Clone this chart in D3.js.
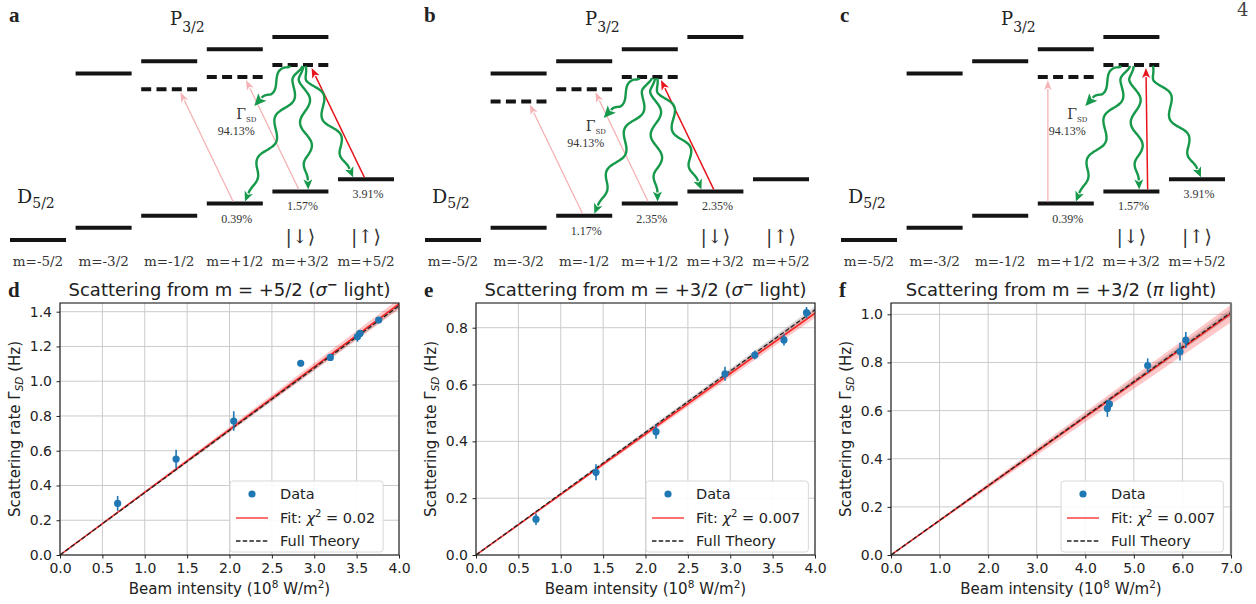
<!DOCTYPE html>
<html><head><meta charset="utf-8">
<script src="https://cdn.jsdelivr.net/npm/d3@7"></script>
<style>body{margin:0;background:#fff}svg{display:block}</style>
</head><body><svg id="fig" width="1256" height="604"></svg>
<script>
// ---------------- DATA ----------------
const mLabels = ["m=-5/2","m=-3/2","m=-1/2","m=+1/2","m=+3/2","m=+5/2"];
const dEnergy = [0,1,2,3,4,5];
const pEnergy = [null,13.7,14.7,15.7,16.7,null];
const virtualDetuning = 2.3;
const gammaBranch = "94.13%";

const aVirtual = [2,3,4];
const aDrives = [[3,2],[4,3],[5,4]];
const aSource = 4;
const aDecays = [3,4,5];
const aBranch = ["0.39%","1.57%","3.91%"];

const bVirtual = [1,2,3];
const bDrives = [[2,1],[3,2],[4,3]];
const bSource = 3;
const bDecays = [2,3,4];
const bBranch = ["1.17%","2.35%","2.35%"];

const cVirtual = [3,4];
const cDrives = [[3,3],[4,4]];
const cSource = 4;
const cDecays = [3,4,5];
const cBranch = ["0.39%","1.57%","3.91%"];

const dX = [0.68,1.37,2.05,2.84,3.19,3.51,3.54,3.76];
const dY = [0.297,0.552,0.771,1.103,1.137,1.256,1.275,1.352];
const dErr = [0.043,0.053,0.056,0.015,0.01,0.029,0.012,0.012];
const dFitSlope = 0.361, dFitBand = 0.0075, dTheorySlope = 0.3585, dTheoryBand = 0.004;

const eX = [0.708,1.416,2.124,2.938,3.29,3.634,3.90];
const eY = [0.126,0.291,0.434,0.638,0.704,0.757,0.853];
const eErr = [0.02,0.028,0.025,0.025,0.015,0.02,0.02];
const eFitSlope = 0.2128, eFitBand = 0.004, eTheorySlope = 0.2158, eTheoryBand = 0.003;

const fX = [4.455,4.497,5.285,5.95,6.07];
const fY = [0.609,0.627,0.787,0.845,0.893];
const fErr = [0.035,0.02,0.03,0.037,0.033];
const fFitSlope = 0.1434, fFitBand = 0.0052, fTheorySlope = 0.1440, fTheoryBand = 0.0022;

const ticksHalf = [0,0.5,1,1.5,2,2.5,3,3.5,4];
const ticksSeven = [0,1,2,3,4,5,6,7];
const yTicksD = [0,0.2,0.4,0.6,0.8,1.0,1.2,1.4];
const yTicksE = [0,0.2,0.4,0.6,0.8];
const yTicksF = [0,0.2,0.4,0.6,0.8,1.0];
const titleM = ["+5/2","+3/2","+3/2"];
const titlePol = ["σ","σ","π"];
const titleSup = ["−","−",""];
const chiLabels = ["0.02","0.007","0.007"];

// ---------------- DRAWING ----------------
const svg = d3.select("#fig");
const SERIF = "DejaVu Serif, serif";
const SERIF2 = "Liberation Serif, serif";
const SANS = "DejaVu Sans, sans-serif";
const GREEN = "#16994a";

const yE = d3.scaleLinear().domain([0,16.7]).range([240,37]);

function arrow(g, S, E, o) {
  const dx=E[0]-S[0], dy=E[1]-S[1], L=Math.hypot(dx,dy);
  const ux=dx/L, uy=dy/L, nx=-uy, ny=ux;
  const Lb = L - o.headLen;
  const N = 80;
  const pts = d3.range(N+1).map(i=>{
    const s = i/N*(Lb+1), t = s/Lb;
    let off = 0;
    if (o.cycles) {
      const env = Math.min(1, t/0.12)*Math.max(0,Math.min(1,(1-t)/0.18));
      off = o.amp*Math.sin(2*Math.PI*o.cycles*t)*env;
    }
    return [S[0]+ux*s+nx*off, S[1]+uy*s+ny*off];
  });
  g.append("path").attr("d", d3.line().curve(d3.curveBasis)(pts))
    .attr("fill","none").attr("stroke",o.color).attr("stroke-width",o.width);
  const B=[S[0]+ux*Lb, S[1]+uy*Lb], hw=o.headW/2;
  g.append("path").attr("d",`M${E[0]},${E[1]}L${B[0]+nx*hw},${B[1]+ny*hw}L${B[0]+ux*2.5},${B[1]+uy*2.5}L${B[0]-nx*hw},${B[1]-ny*hw}Z`)
    .attr("fill",o.color);
}

function drawDiagram(P) {
  const g = svg.append("g");
  const x = d3.scaleBand().domain(d3.range(mLabels.length)).range([P.ox, P.ox+384]).paddingInner(0.146).paddingOuter(0);
  const bw = x.bandwidth();
  const px = (i,f)=>x(i)+f*bw;
  g.selectAll(".dl").data(dEnergy).join("line")
    .attr("x1",(d,i)=>x(i)).attr("x2",(d,i)=>x(i)+bw)
    .attr("y1",d=>yE(d)).attr("y2",d=>yE(d))
    .attr("stroke","#141414").attr("stroke-width",4);
  const pIdx = d3.range(pEnergy.length).filter(i=>pEnergy[i]!=null);
  g.selectAll(".pl").data(pIdx).join("line")
    .attr("x1",i=>x(i)).attr("x2",i=>x(i)+bw)
    .attr("y1",i=>yE(pEnergy[i])).attr("y2",i=>yE(pEnergy[i]))
    .attr("stroke","#141414").attr("stroke-width",4);
  const vy = i=>yE(pEnergy[i]-virtualDetuning);
  g.selectAll(".vl").data(P.virtual).join("line")
    .attr("x1",i=>x(i)).attr("x2",i=>x(i)+bw)
    .attr("y1",vy).attr("y2",vy)
    .attr("stroke","#141414").attr("stroke-width",4).attr("stroke-dasharray","10,5.3");
  g.selectAll(".ml").data(mLabels).join("text")
    .attr("x",(d,i)=>x(i)+bw/2).attr("y",266).attr("text-anchor","middle")
    .attr("font-family",SERIF).attr("font-size",13.5).attr("fill","#333").text(d=>d);
  [[4,"|↓⟩"],[5,"|↑⟩"]].forEach(([i,t])=>{
    g.append("text").attr("x",x(i)+bw/2).attr("y",243).attr("text-anchor","middle")
      .attr("font-family",SERIF).attr("font-size",19).attr("fill","#333").text(t);
  });
  g.append("text").attr("x",P.ox-1).attr("y",22).attr("font-family",SERIF2).attr("font-weight","bold")
    .attr("font-size",21).attr("fill","#222").text(P.label);
  const pt = g.append("text").attr("x",P.ox+160).attr("y",25).attr("font-family",SERIF).attr("font-size",18).attr("fill","#222");
  pt.append("tspan").text("P");
  pt.append("tspan").attr("dy",7).attr("font-size",14).text("3/2");
  const dt = g.append("text").attr("x",P.ox+7).attr("y",203).attr("font-family",SERIF).attr("font-size",19).attr("fill","#222");
  dt.append("tspan").text("D");
  dt.append("tspan").attr("dy",5).attr("font-size",14).text("5/2");
  P.drives.forEach(([from,to])=>{
    const strong = to===P.source;
    let sf, ef;
    if (from===to) { sf = strong?0.79:0.18; ef = strong?0.76:0.18; }
    else { sf = 0.47; ef = 0.7; }
    const S=[px(from,sf), yE(dEnergy[from])-2], E=[px(to,ef), vy(to)+3];
    arrow(g,S,E,{color: strong?"#e8141c":"#f6b3b5", width: strong?1.5:1.3, headLen:10, headW: strong?8:7.5});
  });
  const src = P.source, sy = vy(src)+1;
  const Sg=[px(src,0.32), sy], Eg=[Sg[0]-36, Sg[1]+40];
  arrow(g,Sg,Eg,{color:GREEN,width:2.4,headLen:12,headW:11,cycles:1,amp:5});
  g.append("text").attr("x",Eg[0]-18).attr("y",Eg[1]+13).attr("font-family",SERIF).attr("font-size",14).attr("fill","#333")
    .call(t=>{t.append("tspan").text("Γ"); t.append("tspan").attr("dy",3).attr("font-size",7).text("SD");});
  g.append("text").attr("x",Eg[0]-18).attr("y",Eg[1]+29).attr("text-anchor","middle").attr("font-family",SERIF2)
    .attr("font-size",12).attr("fill","#333").text(gammaBranch);
  P.decays.forEach((t,k)=>{
    const sf = P.startF[k];
    const lf = t<src?0.68:(t===src?0.64:P.rightF);
    const S=[px(src,sf), sy], E=[px(t,lf), yE(dEnergy[t])-2];
    const L = Math.hypot(E[0]-S[0],E[1]-S[1]);
    arrow(g,S,E,{color:GREEN,width:2.4,headLen:10,headW:9,cycles:Math.round(L/46*2)/2,amp:5.5});
    g.append("text").attr("x",x(t)+bw/2+2).attr("y",yE(dEnergy[t])+19).attr("text-anchor","middle")
      .attr("font-family",SERIF2).attr("font-size",12).attr("fill","#333").text(P.branch[k]);
  });
}

drawDiagram({ox:10,label:"a",virtual:aVirtual,drives:aDrives,source:aSource,decays:aDecays,branch:aBranch,startF:[0.54,0.55,0.59],rightF:0.27});
drawDiagram({ox:425,label:"b",virtual:bVirtual,drives:bDrives,source:bSource,decays:bDecays,branch:bBranch,startF:[0.54,0.59,0.63],rightF:0.25});
drawDiagram({ox:841,label:"c",virtual:cVirtual,drives:cDrives,source:cSource,decays:cDecays,branch:cBranch,startF:[0.48,0.54,0.88],rightF:0.57});

svg.append("text").attr("x",1237).attr("y",16).attr("font-family",SERIF).attr("font-size",18).attr("fill","#444").text("4");

// ---------------- PLOTS ----------------
const fmt1 = d3.format(".1f");
const TOP=303, BOT=555;
function drawPlot(p, k) {
  const g = svg.append("g");
  const x = d3.scaleLinear().domain([0,p.xmax]).range([p.left,p.right]);
  const y = d3.scaleLinear().domain([0,p.ymax]).range([BOT,TOP]);
  const cid = "clip"+p.label;
  svg.append("clipPath").attr("id",cid).append("rect").attr("x",p.left).attr("y",TOP).attr("width",p.right-p.left).attr("height",BOT-TOP);
  g.append("g").selectAll("line").data(p.xTicks).join("line")
    .attr("x1",d=>x(d)).attr("x2",d=>x(d)).attr("y1",TOP).attr("y2",BOT).attr("stroke","#cbcbcb").attr("stroke-width",1);
  g.append("g").selectAll("line").data(p.yTicks).join("line")
    .attr("y1",d=>y(d)).attr("y2",d=>y(d)).attr("x1",p.left).attr("x2",p.right).attr("stroke","#cbcbcb").attr("stroke-width",1);
  const pg = g.append("g").attr("clip-path",`url(#${cid})`);
  const xs = [0,p.xmax*1.02];
  const band = (s,b)=>d3.area().x(d=>x(d)).y0(d=>y((s-b)*d)).y1(d=>y((s+b)*d));
  pg.append("path").datum(xs).attr("d",band(p.fit,p.fitBand)).attr("fill","#ff0000").attr("opacity",0.22);
  pg.append("path").datum(xs).attr("d",band(p.th,p.thBand)).attr("fill","#000").attr("opacity",0.15);
  const ln = s=>d3.line().x(d=>x(d)).y(d=>y(s*d));
  pg.append("path").datum(xs).attr("d",ln(p.fit)).attr("stroke","#ff0000").attr("stroke-opacity",0.8).attr("stroke-width",1.6).attr("fill","none");
  pg.append("path").datum(xs).attr("d",ln(p.th)).attr("stroke","#222").attr("stroke-width",1.3).attr("stroke-dasharray","4.5,2.2").attr("fill","none");
  const idx = d3.range(p.xs.length);
  pg.selectAll(".eb").data(idx).join("line")
    .attr("x1",i=>x(p.xs[i])).attr("x2",i=>x(p.xs[i]))
    .attr("y1",i=>y(p.ys[i]-p.err[i])).attr("y2",i=>y(p.ys[i]+p.err[i]))
    .attr("stroke","#1f77b4").attr("stroke-width",1.6);
  pg.selectAll(".pt").data(idx).join("circle")
    .attr("cx",i=>x(p.xs[i])).attr("cy",i=>y(p.ys[i])).attr("r",3.6).attr("fill","#1f77b4");
  const xa = g.append("g").attr("transform",`translate(0,${BOT})`)
    .call(d3.axisBottom(x).tickValues(p.xTicks).tickFormat(fmt1).tickSize(3.5).tickPadding(4.5).tickSizeOuter(0));
  const ya = g.append("g").attr("transform",`translate(${p.left},0)`)
    .call(d3.axisLeft(y).tickValues(p.yTicks).tickFormat(fmt1).tickSize(3.5).tickPadding(4.5).tickSizeOuter(0));
  [xa,ya].forEach(a=>{
    a.attr("font-family",SANS).attr("font-size",14);
    a.select(".domain").remove();
    a.selectAll("line").attr("stroke","#222");
    a.selectAll("text").attr("fill","#222");
  });
  g.append("rect").attr("x",p.left).attr("y",TOP).attr("width",p.right-p.left).attr("height",BOT-TOP)
    .attr("fill","none").attr("stroke","#1a1a1a").attr("stroke-width",1.1);
  if (p.label==="f") g.append("line").attr("x1",p.right).attr("x2",p.right).attr("y1",TOP).attr("y2",BOT).attr("stroke","#777").attr("stroke-width",2.2);
  const lg = g.append("g");
  const lx = p.left+170, ltop = 481;
  const box = lg.append("rect").attr("x",lx).attr("y",ltop).attr("height",71).attr("rx",3)
    .attr("fill","#fff").attr("fill-opacity",0.9).attr("stroke","#d8d8d8").attr("stroke-width",1);
  const rows=[494,518,541];
  lg.append("circle").attr("cx",lx+22).attr("cy",rows[0]).attr("r",3.6).attr("fill","#1f77b4");
  lg.append("line").attr("x1",lx+6).attr("x2",lx+38).attr("y1",rows[1]).attr("y2",rows[1]).attr("stroke","#ff0000").attr("stroke-opacity",0.7).attr("stroke-width",1.6);
  lg.append("line").attr("x1",lx+6).attr("x2",lx+38).attr("y1",rows[2]).attr("y2",rows[2]).attr("stroke","#222").attr("stroke-width",1.3).attr("stroke-dasharray","4.5,2.2");
  const tx = lx+50;
  const lt = (yy)=>lg.append("text").attr("x",tx).attr("y",yy+5).attr("font-family",SANS).attr("font-size",14.5).attr("fill","#222");
  lt(rows[0]).text("Data");
  const ft = lt(rows[1]);
  ft.append("tspan").text("Fit: ");
  ft.append("tspan").attr("font-style","italic").text("χ");
  ft.append("tspan").attr("dy",-6).attr("font-size",10).text("2");
  ft.append("tspan").attr("dy",6).text(" = "+chiLabels[k]);
  lt(rows[2]).text("Full Theory");
  let maxW = 0; lg.selectAll("text").each(function(){maxW=Math.max(maxW,this.getComputedTextLength());});
  box.attr("width",50+maxW+8);
  const tt = g.append("text").attr("x",(p.left+p.right)/2).attr("y",296).attr("text-anchor","middle")
    .attr("font-family",SANS).attr("font-size",18).attr("fill","#222");
  tt.append("tspan").text(`Scattering from m = ${titleM[k]} (`);
  tt.append("tspan").attr("font-style","italic").text(titlePol[k]);
  if (titleSup[k]) { tt.append("tspan").attr("dy",-7).attr("font-size",13).attr("font-weight","bold").text(titleSup[k]); tt.append("tspan").attr("dy",7).text("  light)"); }
  else tt.append("tspan").text(" light)");
  g.append("text").attr("x",p.left-52).attr("y",297).attr("font-family",SERIF2).attr("font-weight","bold").attr("font-size",21).attr("fill","#222").text(p.label);
  const xl = g.append("text").attr("x",(p.left+p.right)/2).attr("y",594).attr("text-anchor","middle")
    .attr("font-family",SANS).attr("font-size",15).attr("fill","#222");
  xl.append("tspan").text("Beam intensity (10");
  xl.append("tspan").attr("dy",-6).attr("font-size",10.5).text("8");
  xl.append("tspan").attr("dy",6).text(" W/m");
  xl.append("tspan").attr("dy",-6).attr("font-size",10.5).text("2");
  xl.append("tspan").attr("dy",6).text(")");
  const yl = g.append("text").attr("transform",`translate(${p.left-40},${(TOP+BOT)/2}) rotate(-90)`).attr("text-anchor","middle")
    .attr("font-family",SANS).attr("font-size",15).attr("fill","#222");
  yl.append("tspan").text("Scattering rate Γ");
  yl.append("tspan").attr("dy",3).attr("font-size",10.5).attr("font-style","italic").text("SD");
  yl.append("tspan").attr("dy",-3).text(" (Hz)");
}

drawPlot({label:"d",left:60,right:399,xmax:4,ymax:1.45,xTicks:ticksHalf,yTicks:yTicksD,xs:dX,ys:dY,err:dErr,fit:dFitSlope,fitBand:dFitBand,th:dTheorySlope,thBand:dTheoryBand},0);
drawPlot({label:"e",left:476,right:815,xmax:4,ymax:0.887,xTicks:ticksHalf,yTicks:yTicksE,xs:eX,ys:eY,err:eErr,fit:eFitSlope,fitBand:eFitBand,th:eTheorySlope,thBand:eTheoryBand},1);
drawPlot({label:"f",left:891,right:1231,xmax:7,ymax:1.047,xTicks:ticksSeven,yTicks:yTicksF,xs:fX,ys:fY,err:fErr,fit:fFitSlope,fitBand:fFitBand,th:fTheorySlope,thBand:fTheoryBand},2);
</script></body></html>
